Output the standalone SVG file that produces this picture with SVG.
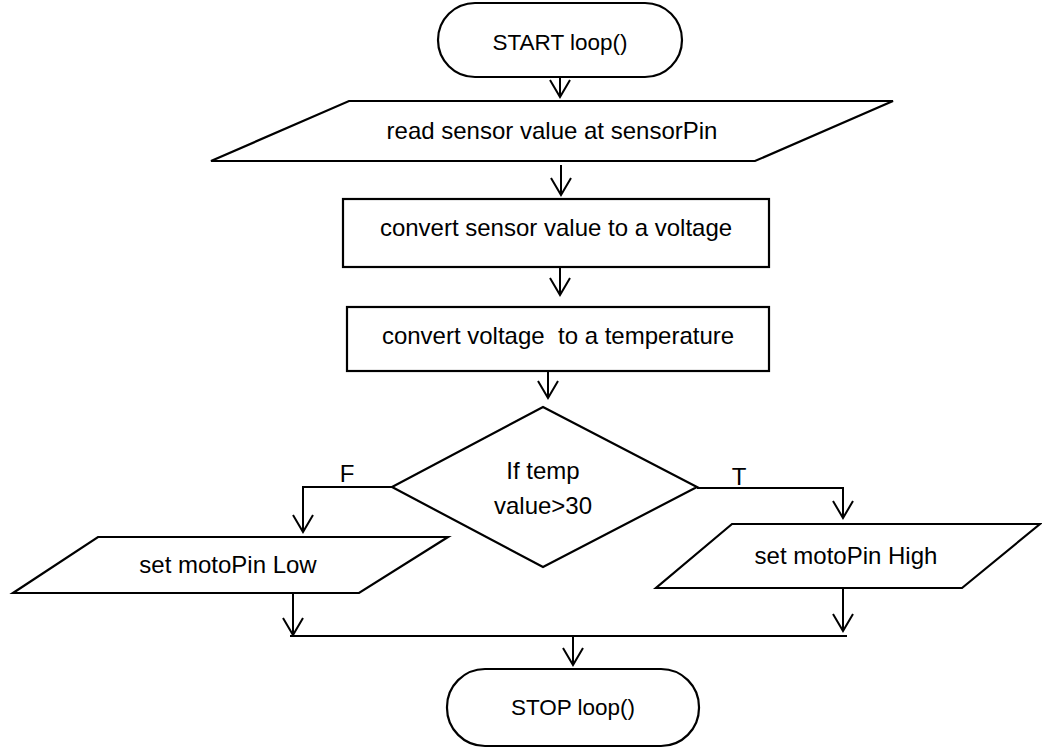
<svg xmlns="http://www.w3.org/2000/svg" width="1042" height="749" viewBox="0 0 1042 749">
<style>
.shape{fill:#fff;stroke:#000;stroke-width:2.2;stroke-linejoin:miter}
.conn{fill:none;stroke:#000;stroke-width:2}
.lbl{font-family:"Liberation Sans",Arial,sans-serif;font-size:24px;fill:#000;text-anchor:middle}
.term{font-size:22.5px}
</style>
<defs>
<marker id="vee" markerUnits="userSpaceOnUse" markerWidth="24" markerHeight="24" viewBox="-19 -12 22 24" refX="0" refY="0" orient="auto">
<path d="M-17,-10 L0,0 L-17,10" fill="none" stroke="#000" stroke-width="2"/>
</marker>
</defs>
<rect width="1042" height="749" fill="#fff"/>
<g id="connectors">
<path class="conn" d="M560,77 L560,97" marker-end="url(#vee)"/>
<path class="conn" d="M561,165 L561,195" marker-end="url(#vee)"/>
<path class="conn" d="M560,267 L560,295" marker-end="url(#vee)"/>
<path class="conn" d="M548,371 L548,398" marker-end="url(#vee)"/>
<path class="conn" d="M392,487 L303,487 L303,532" marker-end="url(#vee)"/>
<path class="conn" d="M697,488 L843,488 L843,518" marker-end="url(#vee)"/>
<path class="conn" d="M293,592 L293,635" marker-end="url(#vee)"/>
<path class="conn" d="M843,588 L843,631" marker-end="url(#vee)"/>
<path class="conn" d="M290,636 L847,636"/>
<path class="conn" d="M573,636 L573,665" marker-end="url(#vee)"/>
<text class="lbl" x="347" y="482">F</text>
<text class="lbl" x="739" y="485">T</text>
</g>
<g id="start">
<rect class="shape" x="438" y="3" width="244" height="74" rx="37" ry="37"/>
<text class="lbl term" x="560" y="50">START loop()</text>
</g>
<g id="read">
<polygon class="shape" points="349,101 893,101 755,161 211,161"/>
<text class="lbl" x="552" y="139">read sensor value at sensorPin</text>
</g>
<g id="toVoltage">
<rect class="shape" x="343" y="199" width="426" height="68"/>
<text class="lbl" x="556" y="236">convert sensor value to a voltage</text>
</g>
<g id="toTemp">
<rect class="shape" x="347" y="307" width="422" height="64"/>
<text class="lbl" x="558" y="344" xml:space="preserve">convert voltage  to a temperature</text>
</g>
<g id="decision">
<polygon class="shape" points="543,407 697,487 543,567 392,487"/>
<text class="lbl" x="543" y="479">If temp</text>
<text class="lbl" x="543" y="514">value&gt;30</text>
</g>
<g id="low">
<polygon class="shape" points="98,537 448,537 359,593 13,593"/>
<text class="lbl" x="228" y="573">set motoPin Low</text>
</g>
<g id="high">
<polygon class="shape" points="732,524 1040,524 962,588 656,588"/>
<text class="lbl" x="846" y="564">set motoPin High</text>
</g>
<g id="stop">
<rect class="shape" x="447" y="669" width="252" height="77" rx="38" ry="38"/>
<text class="lbl term" x="573" y="715">STOP loop()</text>
</g>
</svg>
